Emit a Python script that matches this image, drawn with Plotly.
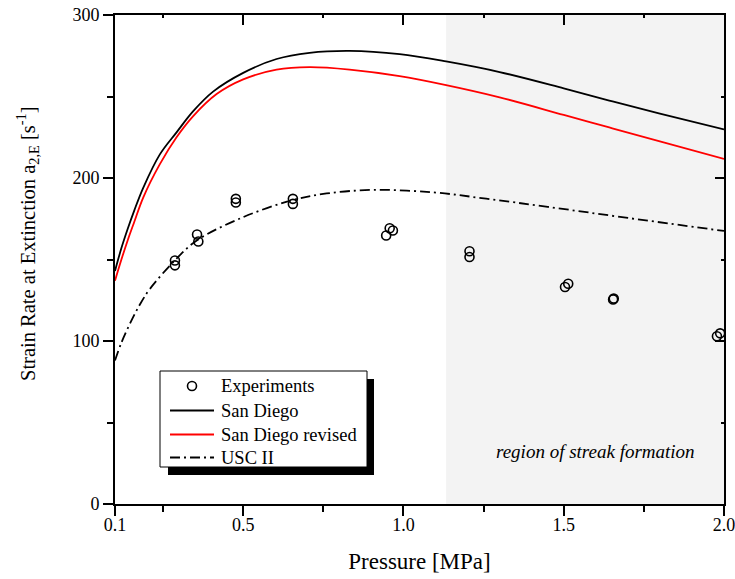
import plotly.graph_objects as go

# ---- data ----
exp_p = [0.287, 0.287, 0.356, 0.360, 0.477, 0.477, 0.655, 0.655, 0.946, 0.957, 0.967,
         1.206, 1.206, 1.504, 1.514, 1.654, 1.656, 1.978, 1.988]
exp_a = [149.4, 146.4, 165.3, 161.0, 187.2, 185.0, 187.2, 184.1, 164.7, 169.2, 167.8,
         155.1, 151.5, 133.1, 135.1, 125.5, 126.0, 102.9, 104.7]

sd_p = [0.1, 0.12, 0.14, 0.16, 0.188, 0.24, 0.292, 0.344, 0.406, 0.5, 0.604, 0.707, 0.832,
        0.988, 1.133, 1.30, 1.5, 1.642, 1.8, 2.0]
sd_a = [143, 157, 169, 180, 194, 214.5, 228, 241, 253, 264.5, 273, 276.8, 278,
        276, 271.5, 265, 255, 247.5, 239.5, 229.8]

sdr_p = [0.1, 0.12, 0.14, 0.16, 0.188, 0.24, 0.292, 0.344, 0.417, 0.5, 0.604, 0.707, 0.832,
         0.988, 1.133, 1.30, 1.5, 1.642, 1.8, 2.0]
sdr_a = [137, 150, 162, 173, 188, 208.5, 225, 238, 251.5, 260.5, 266.5, 268, 266.5,
         262.5, 257, 249.5, 238.7, 231, 222.5, 211.7]

usc_p = [0.1, 0.12, 0.15, 0.178, 0.209, 0.287, 0.354, 0.5, 0.655, 0.76, 0.905, 1.092,
         1.258, 1.45, 1.7, 2.0]
usc_a = [88, 99, 112, 122.5, 132, 149.5, 161.5, 176, 186.5, 190.5, 192.7, 191.2,
         187.3, 182.3, 175.5, 167.5]

x_ticks = [0.1, 0.5, 1.0, 1.5, 2.0]
x_ticktext = ["0.1", "0.5", "1.0", "1.5", "2.0"]
x_minor = [0.25, 0.75, 1.25, 1.75]
streak_start = 1.133

legend_names = ["Experiments", "San Diego", "San Diego revised", "USC II"]

FONT = "Liberation Serif, Times New Roman, serif"
W, H = 735, 579
ML, MR, MT, MB = 115, 11, 15, 75
PW, PH = W - ML - MR, H - MT - MB


def px(xp):
    return (xp - ML) / PW


def py(yp):
    return (H - MB - yp) / PH


fig = go.Figure()
fig.add_trace(go.Scatter(x=exp_p, y=exp_a, mode="markers", name=legend_names[0],
                         marker=dict(symbol="circle-open", size=9, color="black",
                                     line=dict(width=1.6, color="black"))))
fig.add_trace(go.Scatter(x=sd_p, y=sd_a, mode="lines", name=legend_names[1], line_shape="spline",
                         line=dict(color="black", width=1.8)))
fig.add_trace(go.Scatter(x=sdr_p, y=sdr_a, mode="lines", name=legend_names[2], line_shape="spline",
                         line=dict(color="#ff0000", width=1.8)))
fig.add_trace(go.Scatter(x=usc_p, y=usc_a, mode="lines", name=legend_names[3], line_shape="spline",
                         line=dict(color="black", width=1.8, dash="10px,4px,2px,4px")))
# dummy trace to realise the mirrored (top / right) axes with inward ticks
fig.add_trace(go.Scatter(x=[None], y=[None], xaxis="x2", yaxis="y2", showlegend=False,
                         hoverinfo="skip"))

fig.add_shape(type="rect", xref="x", yref="paper", x0=streak_start, x1=2.0, y0=0, y1=1,
              fillcolor="#f3f3f3", line=dict(width=0), layer="below")

# ---- legend box with drop shadow ----
fig.add_shape(type="rect", xref="paper", yref="paper", x0=px(168), x1=px(374), y0=py(475), y1=py(379),
              fillcolor="black", line=dict(width=0), layer="above")
fig.add_shape(type="rect", xref="paper", yref="paper", x0=px(160), x1=px(367), y0=py(467), y1=py(371),
              fillcolor="white", line=dict(width=1, color="black"), layer="above")
rows = [386, 410.5, 434.5, 457.5]
fig.add_shape(type="circle", xref="paper", yref="paper", xsizemode="pixel", ysizemode="pixel",
              xanchor=px(192), yanchor=py(rows[0]), x0=-4.5, x1=4.5, y0=-4.5, y1=4.5,
              line=dict(color="black", width=1.6), fillcolor="rgba(0,0,0,0)", layer="above")
line_styles = [None, dict(color="black", width=1.8), dict(color="#ff0000", width=1.8),
               dict(color="black", width=1.8, dash="10px,4px,2px,4px")]
for i, name in enumerate(legend_names):
    if line_styles[i] is not None:
        fig.add_shape(type="line", xref="paper", yref="paper", x0=px(170), x1=px(214),
                      y0=py(rows[i]), y1=py(rows[i]), line=line_styles[i], layer="above")
    fig.add_annotation(x=px(219), y=py(rows[i]), xref="paper", yref="paper", text=name,
                       showarrow=False, xanchor="left", yanchor="middle",
                       font=dict(family=FONT, size=18.5, color="black"))

fig.add_annotation(x=1.6, y=32, xref="x", yref="y",
                   text="<i>region of streak formation</i>", showarrow=False,
                   font=dict(family=FONT, size=19, color="black"))

# y-axis title (placed as in the reference, slightly above the plot centre)
fig.add_annotation(x=px(27), y=py(244), xref="paper", yref="paper", textangle=-90,
                   text="Strain Rate at Extinction a<sub>2,E</sub> [s<sup>-1</sup>]",
                   showarrow=False, xanchor="center", yanchor="middle",
                   font=dict(family=FONT, size=20.5, color="black"))

axis_common = dict(showgrid=False, zeroline=False, showline=True, linecolor="black", linewidth=2,
                   ticks="outside", tickcolor="black", tickwidth=2, ticklen=10, automargin=False,
                   tickfont=dict(family=FONT, size=18, color="black"))

fig.update_layout(
    width=W, height=H,
    margin=dict(l=ML, r=MR, t=MT, b=MB, autoexpand=False),
    paper_bgcolor="white", plot_bgcolor="white",
    font=dict(family=FONT, size=18, color="black"),
    showlegend=False,
    xaxis=dict(range=[0.1, 2.0], tickmode="array", tickvals=x_ticks, ticktext=x_ticktext,
               ticklabeloverflow="allow",
               minor=dict(tickmode="array", tickvals=x_minor, ticks="outside", ticklen=6,
                          tickwidth=2, tickcolor="black"),
               title=dict(text="Pressure [MPa]", font=dict(family=FONT, size=23), standoff=19),
               **axis_common),
    yaxis=dict(range=[0, 300], tickmode="linear", tick0=0, dtick=100,
               ticklabeloverflow="allow",
               minor=dict(dtick=50, ticks="outside", ticklen=6, tickwidth=2, tickcolor="black"),
               **axis_common),
    xaxis2=dict(range=[0.1, 2.0], overlaying="x", side="top", anchor="y2", automargin=False,
                showgrid=False, zeroline=False, showline=True, linecolor="black", linewidth=2,
                tickmode="array", tickvals=x_ticks, showticklabels=False,
                ticks="inside", ticklen=10, tickwidth=2, tickcolor="black",
                minor=dict(tickmode="array", tickvals=x_minor, ticks="inside", ticklen=3,
                           tickwidth=2, tickcolor="black")),
    yaxis2=dict(range=[0, 300], overlaying="y", side="right", anchor="x2", automargin=False,
                showgrid=False, zeroline=False, showline=True, linecolor="black", linewidth=2,
                tickmode="linear", tick0=0, dtick=100, showticklabels=False,
                ticks="inside", ticklen=9, tickwidth=2, tickcolor="black",
                minor=dict(dtick=50, ticks="inside", ticklen=3, tickwidth=2, tickcolor="black")),
)

try:
    fig.layout.xaxis.ticklabelstandoff = -7
except Exception:
    pass

fig.write_html("out.html")
